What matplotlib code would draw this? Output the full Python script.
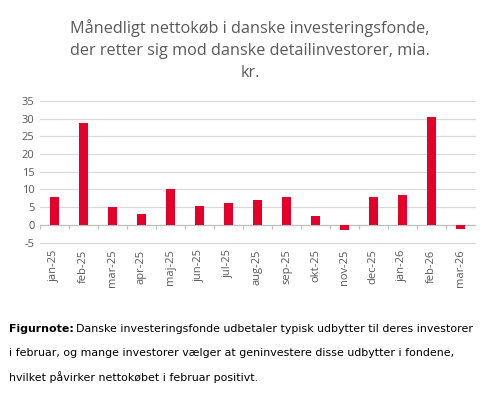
import numpy as np
import matplotlib.pyplot as plt

months = ['jan-25', 'feb-25', 'mar-25', 'apr-25', 'maj-25', 'jun-25', 'jul-25', 'aug-25',
          'sep-25', 'okt-25', 'nov-25', 'dec-25', 'jan-26', 'feb-26', 'mar-26']
values = [7.8, 28.8, 4.9, 3.2, 10.0, 5.2, 6.3, 6.9, 8.0, 2.4, -1.6, 7.8, 8.3, 30.5, -1.3]
yticks = [-5, 0, 5, 10, 15, 20, 25, 30, 35]

title = 'Månedligt nettokøb i danske investeringsfonde,\nder retter sig mod danske detailinvestorer, mia.\nkr.'
note = ['Danske investeringsfonde udbetaler typisk udbytter til deres investorer',
        'i februar, og mange investorer vælger at geninvestere disse udbytter i fondene,',
        'hvilket påvirker nettokøbet i februar positivt.']

red = '#E4002B'
gray = '#595959'

fig = plt.figure(figsize=(5.03, 3.95), dpi=100)
ax = fig.add_axes([0.0795, 0.386, 0.8645, 0.3585])

x = np.arange(len(months))
ax.bar(x, values, width=0.31, color=red, zorder=3)

ax.set_xlim(-0.5, len(months) - 0.5)
ax.set_ylim(-5, 35)
ax.set_yticks(yticks)
ax.set_yticklabels([str(v) for v in yticks], fontsize=8, color=gray, family='Open Sans')
for v in yticks:
    c = '#BFBFBF' if v == 0 else '#D9D9D9'
    ax.axhline(v, color=c, lw=0.9, zorder=1, clip_on=False)
ax.vlines(np.arange(len(months) + 1) - 0.5, -1.3, 0, color='#BFBFBF', lw=0.9, zorder=1)

ax.set_xticks(x)
ax.set_xticklabels(months, rotation=90, fontsize=8, color=gray, family='Open Sans')
ax.tick_params(axis='both', length=0)
ax.tick_params(axis='x', pad=5)
ax.tick_params(axis='y', pad=4)
for s in ax.spines.values():
    s.set_visible(False)

fig.text(0.497, 0.952, title, ha='center', va='top', fontsize=11.7, color=gray,
         family='Open Sans', linespacing=1.5)

# footnote, bold lead-in followed by normal text
fs = 7.95
t0 = fig.text(0.017, 0.167, 'Figurnote:', fontsize=fs, fontweight='bold', va='center', family='DejaVu Sans')
fig.canvas.draw()
bb = t0.get_window_extent()
fig.text(bb.x1 / fig.bbox.width + 0.006, 0.167, note[0], fontsize=fs, va='center', family='DejaVu Sans')
fig.text(0.017, 0.106, note[1], fontsize=fs, va='center', family='DejaVu Sans')
fig.text(0.017, 0.045, note[2], fontsize=fs, va='center', family='DejaVu Sans')

fig.savefig('out.png', dpi=100)
